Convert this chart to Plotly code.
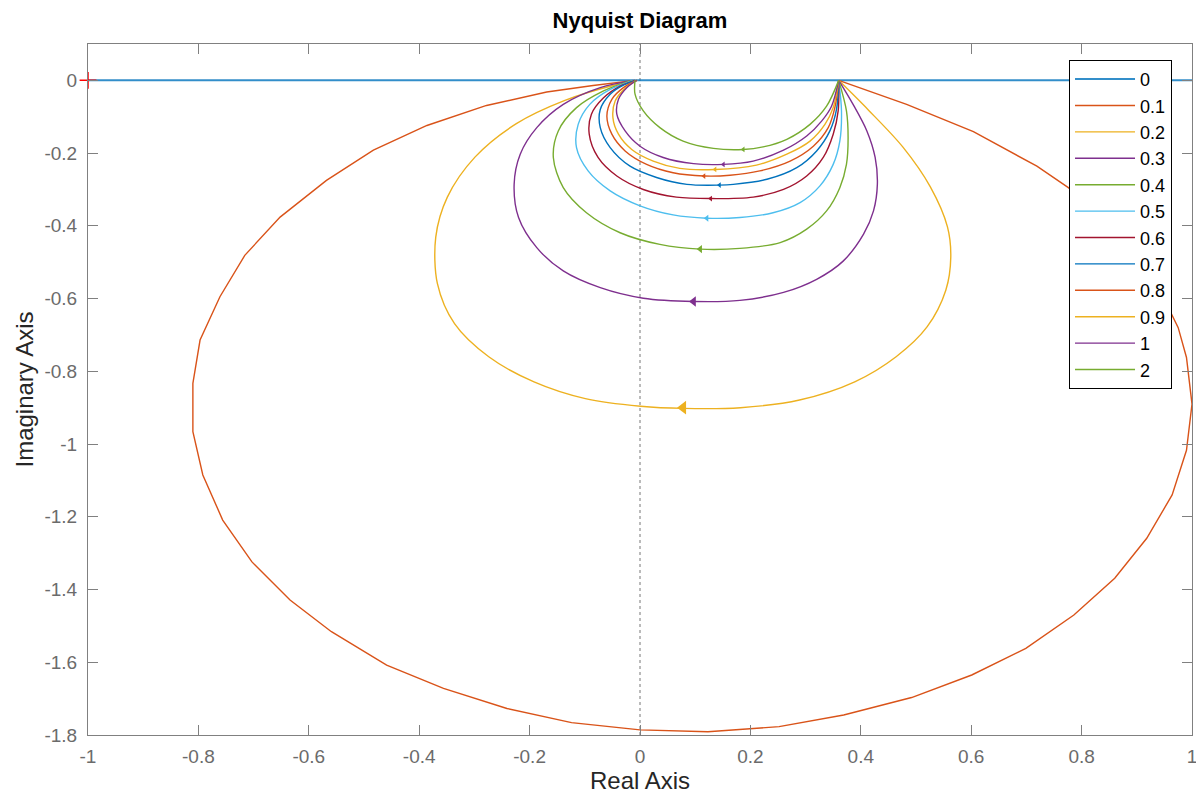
import plotly.graph_objects as go

# ---------------- data ----------------
zeta_labels = ["0", "0.1", "0.2", "0.3", "0.4", "0.5", "0.6", "0.7", "0.8", "0.9", "1", "2"]

re_z0 = [-1.0, 0.0, 0.36, 1.0]
im_z0 = [0.0, 0.0, 0.0, 0.0]

re_z01 = [0.36, 0.483, 0.604, 0.719, 0.776, 0.833, 0.888, 0.933, 0.975, 0.990, 1.0, 0.990, 0.964,
          0.918, 0.860, 0.786, 0.699, 0.601, 0.492, 0.369, 0.252, 0.123, 0.0, -0.124, -0.241,
          -0.356, -0.459, -0.559, -0.634, -0.703, -0.756, -0.792, -0.810, -0.810, -0.797, -0.761,
          -0.716, -0.652, -0.568, -0.483, -0.386, -0.278, -0.169, -0.085, -0.009]
im_z01 = [0.0, -0.066, -0.141, -0.236, -0.295, -0.363, -0.44, -0.55, -0.680, -0.762, -0.890, -1.017,
          -1.140, -1.259, -1.369, -1.470, -1.562, -1.635, -1.697, -1.745, -1.777, -1.791, -1.786,
          -1.766, -1.727, -1.672, -1.608, -1.516, -1.429, -1.324, -1.209, -1.085, -0.966, -0.833,
          -0.714, -0.595, -0.481, -0.376, -0.275, -0.192, -0.124, -0.069, -0.032, -0.014, 0.0]

re_z02 = [0.36, 0.414, 0.476, 0.526, 0.557, 0.563, 0.554, 0.520, 0.464, 0.389, 0.289, 0.182, 0.079,
          0.001, -0.099, -0.192, -0.274, -0.336, -0.367, -0.370, -0.349, -0.299, -0.224, -0.136,
          -0.049, -0.005]
im_z02 = [0.0, -0.082, -0.183, -0.293, -0.403, -0.486, -0.577, -0.678, -0.760, -0.829, -0.879, -0.900,
          -0.902, -0.896, -0.875, -0.829, -0.760, -0.669, -0.559, -0.431, -0.321, -0.211, -0.119,
          -0.055, -0.014, 0.0]

re_z03 = [0.36, 0.386, 0.411, 0.426, 0.430, 0.423, 0.405, 0.368, 0.320, 0.260, 0.181, 0.097, 0.006,
          -0.072, -0.139, -0.187, -0.220, -0.228, -0.217, -0.187, -0.139, -0.072, -0.012]
im_z03 = [0.0, -0.066, -0.139, -0.212, -0.286, -0.359, -0.423, -0.497, -0.547, -0.583, -0.605, -0.608,
          -0.599, -0.570, -0.524, -0.460, -0.377, -0.286, -0.203, -0.130, -0.066, -0.020, 0.0]

re_z04 = [0.36, 0.374, 0.377, 0.374, 0.362, 0.338, 0.302, 0.254, 0.181, 0.109, 0.036, -0.036, -0.097,
          -0.139, -0.157, -0.148, -0.115, -0.066, -0.015]
im_z04 = [0.0, -0.084, -0.158, -0.231, -0.295, -0.359, -0.409, -0.446, -0.462, -0.464, -0.451, -0.419,
          -0.364, -0.295, -0.212, -0.139, -0.075, -0.029, 0.0]

re_z05 = [0.36, 0.365, 0.362, 0.350, 0.326, 0.290, 0.241, 0.181, 0.121, 0.060, 0.0, -0.054, -0.094,
          -0.115, -0.112, -0.091, -0.054, -0.012]
im_z05 = [0.0, -0.084, -0.167, -0.231, -0.290, -0.336, -0.364, -0.377, -0.379, -0.370, -0.345, -0.304,
          -0.249, -0.185, -0.121, -0.066, -0.025, 0.0]

re_z06 = [0.36, 0.359, 0.350, 0.332, 0.302, 0.260, 0.205, 0.128, 0.066, 0.006, -0.042, -0.076, -0.092,
          -0.088, -0.066, -0.036, -0.009]
im_z06 = [0.0, -0.084, -0.148, -0.212, -0.263, -0.300, -0.321, -0.325, -0.321, -0.300, -0.263, -0.212,
          -0.148, -0.093, -0.048, -0.016, 0.0]

re_z07 = [0.36, 0.356, 0.344, 0.320, 0.284, 0.230, 0.169, 0.144, 0.085, 0.030, -0.018, -0.054, -0.072,
          -0.072, -0.054, -0.030, -0.006]
im_z07 = [0.0, -0.080, -0.139, -0.194, -0.240, -0.272, -0.286, -0.288, -0.286, -0.267, -0.236, -0.185,
          -0.130, -0.080, -0.038, -0.013, 0.0]

re_z08 = [0.36, 0.353, 0.341, 0.314, 0.272, 0.217, 0.163, 0.116, 0.060, 0.012, -0.027, -0.051, -0.060,
          -0.051, -0.030, -0.006]
im_z08 = [0.0, -0.075, -0.130, -0.181, -0.222, -0.249, -0.261, -0.263, -0.254, -0.231, -0.194, -0.148,
          -0.098, -0.052, -0.020, 0.0]

re_z09 = [0.36, 0.350, 0.335, 0.308, 0.266, 0.211, 0.136, 0.072, 0.024, -0.015, -0.039, -0.049, -0.045,
          -0.027, -0.006]
im_z09 = [0.0, -0.075, -0.121, -0.167, -0.203, -0.233, -0.245, -0.242, -0.222, -0.190, -0.148, -0.103,
          -0.057, -0.022, 0.0]

re_z1 = [0.36, 0.347, 0.329, 0.302, 0.260, 0.205, 0.151, 0.097, 0.042, 0.0, -0.027, -0.042, -0.039,
         -0.024, -0.006]
im_z1 = [0.0, -0.071, -0.112, -0.153, -0.192, -0.222, -0.231, -0.229, -0.212, -0.181, -0.139, -0.093,
         -0.052, -0.020, 0.0]

re_z2 = [0.36, 0.338, 0.308, 0.266, 0.223, 0.187, 0.133, 0.078, 0.036, 0.006, -0.009, -0.009]
im_z2 = [0.0, -0.071, -0.121, -0.162, -0.183, -0.190, -0.187, -0.167, -0.130, -0.084, -0.038, 0.0]

# direction arrows (one per curve, zeta = 0.2 ... 2)
arrow_re = [0.078, 0.097, 0.109, 0.121, 0.128, 0.144, 0.116, 0.136, 0.151, 0.187]
arrow_im = [-0.900, -0.608, -0.464, -0.379, -0.325, -0.288, -0.263, -0.245, -0.231, -0.190]

critical_re = [-1.0]
critical_im = [0.0]

x_tickvals = [-1, -0.8, -0.6, -0.4, -0.2, 0, 0.2, 0.4, 0.6, 0.8, 1]
x_ticktext = ["-1", "-0.8", "-0.6", "-0.4", "-0.2", "0", "0.2", "0.4", "0.6", "0.8", "1"]
y_tickvals = [0, -0.2, -0.4, -0.6, -0.8, -1, -1.2, -1.4, -1.6, -1.8]
y_ticktext = ["0", "-0.2", "-0.4", "-0.6", "-0.8", "-1", "-1.2", "-1.4", "-1.6", "-1.8"]

# ---------------- styling ----------------
matlab_colors = ["#0072BD", "#D95319", "#EDB120", "#7E2F8E", "#77AC30", "#4DBEEE", "#A2142F"]
curves = [(re_z0, im_z0), (re_z01, im_z01), (re_z02, im_z02), (re_z03, im_z03), (re_z04, im_z04),
          (re_z05, im_z05), (re_z06, im_z06), (re_z07, im_z07), (re_z08, im_z08), (re_z09, im_z09),
          (re_z1, im_z1), (re_z2, im_z2)]
arrow_sizes = [12, 9, 7, 6, 5, 5, 5, 5, 5, 5]
FONT = "Liberation Sans, Arial, Helvetica, sans-serif"

fig = go.Figure()

for i, (lab, (xr, yi)) in enumerate(zip(zeta_labels, curves)):
    col = matlab_colors[i % len(matlab_colors)]
    shape = "linear" if i <= 1 else "spline"
    fig.add_trace(go.Scatter(
        x=xr, y=yi, mode="lines", name=lab, legendgroup=lab,
        line=dict(color=col, width=2.0 if i == 0 else 1.4, shape=shape, smoothing=0.9),
        opacity=0.8 if i == 0 else 1.0,
        hoverinfo="skip"))

for j in range(len(arrow_re)):
    i = j + 2
    col = matlab_colors[i % len(matlab_colors)]
    fig.add_trace(go.Scatter(
        x=[arrow_re[j]], y=[arrow_im[j]], mode="markers", showlegend=False,
        legendgroup=zeta_labels[i],
        marker=dict(symbol="triangle-left", size=arrow_sizes[j], color=col, line=dict(width=0)),
        hoverinfo="skip"))

fig.add_trace(go.Scatter(
    x=critical_re, y=critical_im, mode="markers", showlegend=False, cliponaxis=False,
    marker=dict(symbol="cross-thin", size=12, line=dict(color="red", width=1.5)),
    hoverinfo="skip"))

fig.add_vline(x=0, line=dict(color="#777777", width=1, dash="dot"), layer="below")

axis_common = dict(
    showgrid=False, zeroline=False, showline=True, linecolor="#808080", linewidth=1,
    mirror="ticks", ticks="inside", ticklen=10, tickcolor="#808080", tickwidth=1,
    tickfont=dict(family=FONT, size=19, color="#6b6b6b"), automargin=False,
)

fig.update_xaxes(range=[-1, 1], tickvals=x_tickvals, ticktext=x_ticktext,
                 title=dict(text="Real Axis", font=dict(family=FONT, size=24, color="#262626"), standoff=0),
                 ticklabelstandoff=4, **axis_common)
fig.update_yaxes(range=[-1.8, 0.1], tickvals=y_tickvals, ticktext=y_ticktext,
                 title=dict(text="Imaginary Axis", font=dict(family=FONT, size=24, color="#262626"), standoff=4),
                 ticklabelstandoff=6, **axis_common)

# the page body has an 8px margin, so the figure is 1196x790 placed at (8, 8)
fig.update_layout(
    width=1196, height=790,
    paper_bgcolor="white", plot_bgcolor="white",
    margin=dict(l=80, r=12, t=36, b=63, autoexpand=False),
    title=dict(text="<b>Nyquist Diagram</b>", x=0.5, xref="paper", xanchor="center",
               y=0.984, yref="container", yanchor="middle",
               font=dict(family=FONT, size=22, color="#000000")),
    legend=dict(x=0.8886, y=0.977, xanchor="left", yanchor="top",
                bgcolor="white", bordercolor="#000000", borderwidth=1,
                font=dict(family=FONT, size=18, color="#000000"),
                itemwidth=60, tracegroupgap=0, traceorder="normal"),
    showlegend=True,
)

fig.write_html("out.html")
